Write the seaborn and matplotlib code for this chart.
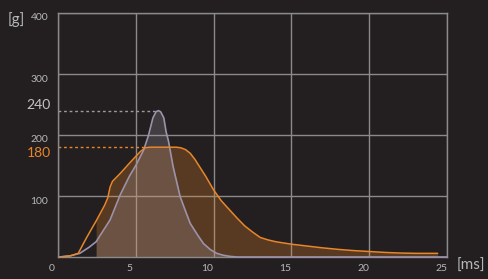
import numpy as np
import pandas as pd
import matplotlib
matplotlib.use("Agg")
import matplotlib.pyplot as plt
import matplotlib.transforms as mtransforms
import seaborn as sns

# curva naranja (ms, g)
ms_naranja = [0.1, 0.8, 1.3, 1.8, 2.2, 2.45, 3.0, 3.2, 3.35, 3.5, 4.0, 4.6, 5.0, 5.3, 5.6,
              5.9, 7.6, 7.9, 8.2, 8.5, 8.8, 9.1, 9.5, 10.0, 10.5, 11.0, 11.5, 12.0, 12.5,
              13.0, 13.5, 14.0, 15.0, 16.0, 17.0, 18.0, 19.0, 20.0, 21.0, 22.0, 23.0, 24.4]
g_naranja = [0, 2, 6, 30, 48, 59, 85, 97, 115, 124, 137, 154, 165, 173, 179,
             180, 180, 179, 176, 170, 160, 148, 132, 110, 92, 78, 64, 51, 41,
             32, 28, 25, 21, 18, 15, 12.5, 10.5, 9, 7.5, 6.5, 6, 6]

# curva gris (ms, g)
ms_gris = [0.1, 0.8, 1.4, 2.0, 2.45, 3.0, 3.35, 4.0, 4.6, 5.0, 5.5, 5.8, 6.1, 6.3, 6.45,
           6.6, 6.8, 6.95, 7.1, 7.4, 7.85, 8.2, 8.5, 9.0, 9.35, 9.8, 10.2, 10.6, 11.05,
           11.5, 25.0]
g_gris = [0, 2, 6, 16, 25, 47, 61, 102, 133, 150, 175, 198, 228, 238, 240,
          238, 228, 205, 190, 148, 99, 75, 55, 35, 22, 12, 6, 3, 1,
          0, 0]

X_INICIO = 2.45
PICO_GRIS = (6.45, 240)
PICO_NARANJA = (5.6, 180)
XTICKS = [0, 5, 10, 15, 20, 25]
YTICKS = [100, 200, 300, 400]

FONDO = "#231f20"
NARANJA = "#e8862a"
GRIS = "#9d92a9"
REJILLA = "#8a8a8a"
TEXTO = "#b8b8b8"

df_n = pd.DataFrame({"ms": ms_naranja, "g": g_naranja})
df_g = pd.DataFrame({"ms": ms_gris, "g": g_gris})

sns.set_style("dark")
plt.rcParams["font.family"] = ["Lato", "DejaVu Sans"]

fig = plt.figure(figsize=(4.89, 2.79), dpi=100, facecolor=FONDO)
ax = fig.add_axes([58 / 489, 1 - 257 / 279, 389 / 489, 244 / 279])
ax.set_facecolor(FONDO)

ax.set_xlim(0, 25)
ax.set_ylim(0, 400)
ax.set_xticks(XTICKS)
ax.set_yticks(YTICKS)
ax.grid(True, color=REJILLA, linewidth=1.0, zorder=0)
ax.set_axisbelow(True)
for s in ax.spines.values():
    s.set_color(REJILLA)
    s.set_linewidth(1.0)

# rellenos
fn = df_n[df_n.ms >= X_INICIO]
ax.fill_between(fn.ms, fn.g, color=NARANJA, alpha=0.27, linewidth=0, zorder=1)
fg = df_g[df_g.ms >= X_INICIO]
ax.fill_between(fg.ms, fg.g, color="#b0a8b8", alpha=0.22, linewidth=0, zorder=1.5)

sns.lineplot(data=df_g, x="ms", y="g", color=GRIS, linewidth=1.2, ax=ax, zorder=3,
             clip_on=False)
sns.lineplot(data=df_n, x="ms", y="g", color=NARANJA, linewidth=1.1, ax=ax, zorder=4)

# lineas punteadas de los picos
ax.plot([0, PICO_GRIS[0]], [PICO_GRIS[1]] * 2, color="#9a9a9a", linewidth=1,
        linestyle=(0, (2, 2)), zorder=2)
ax.plot([0, PICO_NARANJA[0]], [PICO_NARANJA[1]] * 2, color=NARANJA, linewidth=1,
        linestyle=(0, (2, 2)), zorder=2)

ax.set_xlabel("")
ax.set_ylabel("")
ax.tick_params(length=0, colors=TEXTO, labelsize=7.5)
ax.tick_params(axis="x", pad=5)
ax.tick_params(axis="y", pad=7)
for lbl in ax.get_xticklabels():
    lbl.set_transform(lbl.get_transform() + mtransforms.ScaledTranslation(-6 / 100, 0, fig.dpi_scale_trans))
for lbl in ax.get_yticklabels():
    lbl.set_transform(lbl.get_transform() + mtransforms.ScaledTranslation(0, -4 / 100, fig.dpi_scale_trans))

off = mtransforms.ScaledTranslation(-7 / 100, 0, fig.dpi_scale_trans)
ax.text(0, PICO_GRIS[1], "240", transform=ax.transData + off, ha="right", va="bottom",
        color="#c4c4c4", fontsize=10)
ax.text(0, PICO_NARANJA[1], "180", transform=ax.transData + off, ha="right", va="top",
        color=NARANJA, fontsize=10)

fig.text(8 / 489, 1 - 20 / 279, "[g]", color=TEXTO, fontsize=11, ha="left", va="center")
fig.text(457 / 489, 1 - 266 / 279, "[ms]", color=TEXTO, fontsize=11, ha="left", va="center")

fig.savefig("out.png", dpi=100, facecolor=FONDO)
